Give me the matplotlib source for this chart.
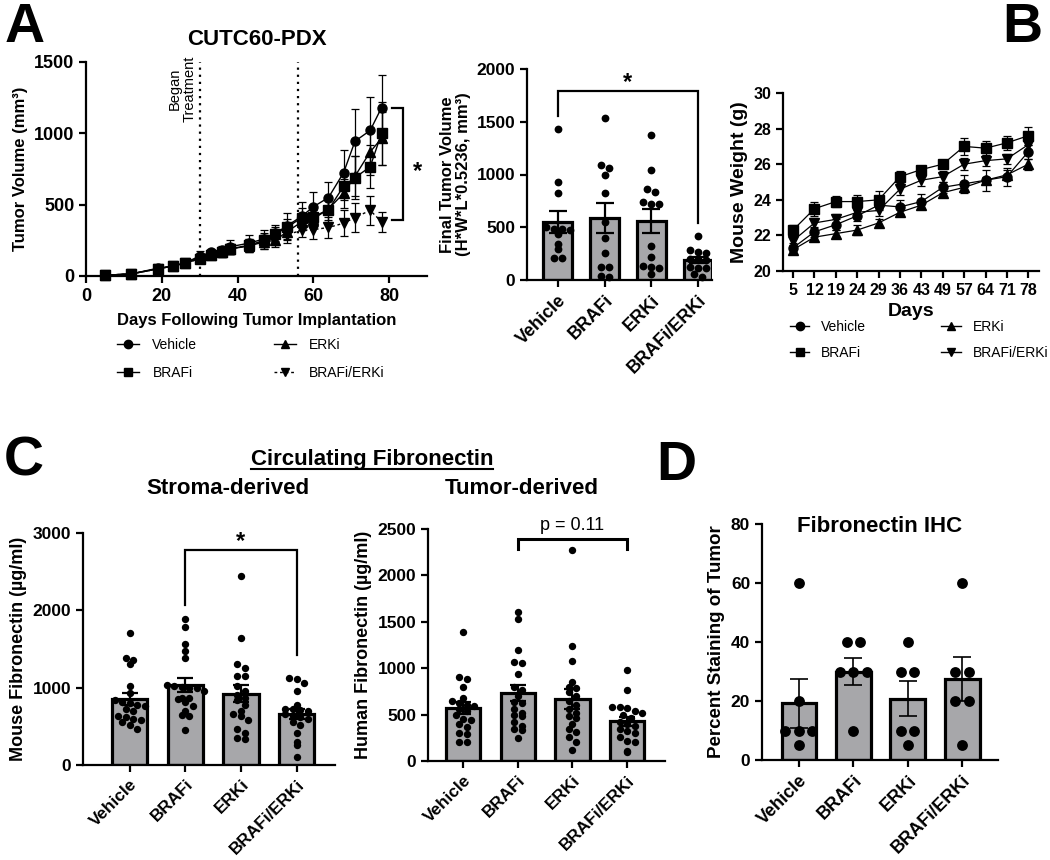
import numpy as np
import matplotlib
matplotlib.use("Agg")
import matplotlib.pyplot as plt
from matplotlib.lines import Line2D

plt.rcParams['font.family'] = ['Liberation Sans', 'DejaVu Sans']
plt.rcParams['font.weight'] = 'bold'
plt.rcParams['axes.labelweight'] = 'bold'
plt.rcParams['axes.titleweight'] = 'bold'
plt.rcParams['axes.linewidth'] = 1.6
plt.rcParams['xtick.major.width'] = 1.6
plt.rcParams['ytick.major.width'] = 1.6
plt.rcParams['xtick.major.size'] = 5
plt.rcParams['ytick.major.size'] = 5

groups = ['Vehicle', 'BRAFi', 'ERKi', 'BRAFi/ERKi']

# A - tumour growth (mean, SEM)
days_a = [5, 12, 19, 23, 26, 30, 33, 36, 38, 43, 47, 50, 53, 57, 60, 64, 68, 71, 75, 78]
veh_a = [5, 15, 55, 70, 90, 140, 165, 180, 205, 230, 260, 300, 350, 420, 485, 550, 725, 945, 1020, 1180]
veh_a_sem = [3, 5, 12, 15, 18, 35, 25, 30, 50, 55, 60, 60, 90, 100, 105, 110, 155, 225, 235, 230]
brafi_a = [5, 15, 50, 70, 90, 120, 145, 165, 190, 215, 250, 295, 340, 410, 415, 465, 630, 690, 765, 1000]
brafi_a_sem = [3, 5, 10, 15, 15, 25, 25, 30, 35, 45, 50, 50, 60, 70, 70, 85, 100, 150, 150, 220]
erki_a = [5, 15, 50, 70, 90, 130, 150, 170, 190, 210, 240, 250, 310, 380, 400, 470, 580, 700, 870, 965]
erki_a_sem = [3, 5, 10, 15, 15, 25, 25, 30, 35, 45, 50, 50, 60, 60, 60, 75, 100, 140, 160, 185]
combo_a = [5, 15, 50, 70, 90, 120, 145, 165, 190, 215, 240, 265, 290, 320, 325, 340, 370, 410, 460, 380]
combo_a_sem = [3, 5, 10, 15, 15, 25, 25, 30, 35, 45, 50, 50, 60, 50, 65, 75, 90, 100, 100, 70]

# A - final tumour volume per mouse
fv_veh = [1430, 930, 825, 500, 485, 480, 475, 435, 340, 290, 205, 205]
fv_brafi = [1540, 1086, 1064, 1000, 825, 550, 397, 254, 127, 127, 41, 32]
fv_erki = [1370, 1041, 864, 835, 737, 721, 721, 318, 222, 133, 127, 111, 54]
fv_combo = [420, 285, 270, 255, 200, 195, 190, 120, 118, 115, 60, 30]

# B - mouse weight (mean, SEM)
days_b = ['5', '12', '19', '24', '29', '36', '43', '49', '57', '64', '71', '78']
veh_b = [21.3, 22.2, 22.6, 23.1, 23.7, 23.6, 23.9, 24.7, 24.9, 25.1, 25.3, 26.7]
veh_b_sem = [0.3, 0.3, 0.3, 0.3, 0.3, 0.4, 0.4, 0.3, 0.5, 0.6, 0.5, 0.4]
brafi_b = [22.3, 23.5, 23.9, 23.9, 24.0, 25.3, 25.7, 26.0, 27.0, 26.9, 27.2, 27.6]
brafi_b_sem = [0.3, 0.4, 0.3, 0.35, 0.5, 0.3, 0.2, 0.2, 0.5, 0.4, 0.4, 0.5]
erki_b = [21.2, 21.9, 22.1, 22.3, 22.7, 23.3, 23.7, 24.4, 24.7, 25.1, 25.4, 26.0]
erki_b_sem = [0.2, 0.2, 0.2, 0.3, 0.2, 0.2, 0.2, 0.2, 0.2, 0.2, 0.3, 0.3]
combo_b = [21.7, 22.7, 22.9, 23.3, 23.4, 24.6, 25.1, 25.3, 26.0, 26.2, 26.3, 27.1]
combo_b_sem = [0.25, 0.3, 0.3, 0.3, 0.3, 0.35, 0.3, 0.3, 0.35, 0.3, 0.3, 0.3]

# C - circulating fibronectin (ug/ml)
mfn_veh = [1710, 1390, 1360, 1300, 1020, 930, 840, 820, 800, 780, 760, 720, 700, 640, 620, 600, 580, 560, 520, 470]
mfn_brafi = [1890, 1780, 1570, 1480, 1380, 1030, 1020, 1010, 1000, 990, 960, 870, 860, 850, 820, 760, 700, 650, 630, 450]
mfn_erki = [2440, 1640, 1300, 1260, 1150, 1150, 1020, 960, 900, 870, 840, 780, 700, 660, 640, 580, 460, 420, 350, 330]
mfn_combo = [1120, 1110, 1060, 960, 770, 730, 720, 710, 700, 660, 640, 620, 600, 560, 520, 410, 300, 260, 100]

hfn_veh = [1390, 910, 880, 800, 680, 650, 620, 600, 590, 560, 540, 500, 450, 440, 400, 370, 300, 290, 210, 200]
hfn_brafi = [1610, 1530, 1200, 1070, 1060, 940, 800, 760, 700, 640, 620, 560, 520, 500, 480, 420, 380, 340, 330, 250]
hfn_erki = [2270, 1240, 1080, 850, 800, 790, 740, 700, 650, 600, 560, 520, 480, 460, 400, 340, 310, 260, 200, 120]
hfn_combo = [980, 770, 580, 580, 570, 540, 520, 500, 460, 420, 400, 380, 340, 320, 300, 260, 220, 200, 110, 100]

# D - fibronectin IHC (% staining)
ihc_veh = [60, 20, 10, 10, 10, 5]
ihc_brafi = [40, 40, 30, 30, 30, 10]
ihc_erki = [40, 30, 30, 10, 10, 5]
ihc_combo = [60, 30, 30, 20, 20, 5]

BAR_GRAY = '#a7a7aa'
W, H = 1050, 860
fig = plt.figure(figsize=(W / 100, H / 100), dpi=100)


def add_ax(l, t, r, b):
    ax = fig.add_axes([l / W, 1 - b / H, (r - l) / W, (b - t) / H])
    ax.spines['top'].set_visible(False)
    ax.spines['right'].set_visible(False)
    return ax


def bold_ticks(ax):
    for lab in ax.get_xticklabels() + ax.get_yticklabels():
        lab.set_fontweight('bold')


def swarm_x(ax, x0, vals, dot_px):
    # rows one dot high, dots in a row spread evenly around the group centre
    ys = ax.transData.transform(np.column_stack([np.zeros(len(vals)), vals]))[:, 1]
    xscale = ax.transData.transform((1, 0))[0] - ax.transData.transform((0, 0))[0]
    rows = np.round(ys / dot_px).astype(int)
    xs = np.full(len(vals), float(x0))
    for r in np.unique(rows):
        idx = np.where(rows == r)[0]
        n = len(idx)
        xs[idx] = x0 + (np.arange(n) - (n - 1) / 2) * dot_px / xscale
    return xs


def bar_panel(ax, data, width, dot_px, ms, cap, elw, xfs):
    for i, vals in enumerate(data):
        vals = np.asarray(vals, float)
        m = vals.mean()
        sem = vals.std(ddof=1) / np.sqrt(len(vals))
        ax.bar(i, m, width=width, color=BAR_GRAY, edgecolor='black', linewidth=2.3, zorder=2)
        xs = swarm_x(ax, i, vals, dot_px)
        ax.plot(xs, vals, 'o', color='black', ms=ms, mec='none', zorder=3, clip_on=False)
        ax.errorbar(i, m, yerr=sem, fmt='none', ecolor='black', capsize=cap,
                    elinewidth=elw, capthick=elw, zorder=4)
    ax.set_xticks(range(len(groups)))
    ax.set_xticklabels(groups, rotation=45, ha='right', rotation_mode='anchor', fontsize=xfs)
    ax.tick_params(axis='y', labelsize=12.5)


def bracket(ax, x1, x2, top, y1, y2, lw=1.6):
    ax.plot([x1, x1, x2, x2], [y1, top, top, y2], color='black', lw=lw, clip_on=False,
            solid_joinstyle='miter')


# ---------------- A: growth curves ----------------
ax1 = add_ax(86, 62, 427, 276)
ax1.set_xlim(0, 90)
ax1.set_ylim(0, 1500)
series_a = [(veh_a, veh_a_sem, 'o', '-'), (brafi_a, brafi_a_sem, 's', '-'),
            (erki_a, erki_a_sem, '^', '-'), (combo_a, combo_a_sem, 'v', (0, (2, 2)))]
handles_a = []
for (m, s, mk, ls), name in zip(series_a, groups):
    ax1.errorbar(days_a, m, yerr=s, fmt='none', ecolor='black', elinewidth=0.9,
                 capsize=3, capthick=0.9, zorder=3, clip_on=False)
    ax1.plot(days_a, m, marker=mk, ls=ls, color='black', lw=1.0, ms=6.5, zorder=4, clip_on=False)
    handles_a.append(Line2D([], [], marker=mk, ls=ls, color='black', lw=1.0, ms=6))
for d in (30, 56):
    ax1.axvline(d, color='black', lw=1.6, ls=(0, (1, 2.2)), zorder=1)
ax1.text(25.3, 1310, 'Began\nTreatment', rotation=90, ha='center', va='center',
         fontsize=10.5, fontweight='normal', linespacing=1.05)
ax1.plot([80.7, 83.6, 83.6, 80.7], [1180, 1180, 390, 390], color='black', lw=1.6,
         solid_joinstyle='miter')
ax1.text(87.4, 690, '*', ha='center', va='baseline', fontsize=17)
ax1.set_xticks([0, 20, 40, 60, 80])
ax1.set_yticks([0, 500, 1000, 1500])
ax1.tick_params(labelsize=13)
ax1.set_ylabel('Tumor Volume (mm³)', fontsize=12)
ax1.set_xlabel('Days Following Tumor Implantation', fontsize=12, labelpad=6)
ax1.set_title('CUTC60-PDX', fontsize=16, pad=12)
ax1.legend(handles_a, groups, ncol=2, loc='upper left', bbox_to_anchor=(117 / W, 1 - 338 / H),
           bbox_transform=fig.transFigure, frameon=False, borderpad=0, borderaxespad=0,
           prop={'weight': 'normal', 'size': 10}, handlelength=1.6, handletextpad=0.95,
           columnspacing=5.5, labelspacing=1.0)
bold_ticks(ax1)

# ---------------- A: final tumour volume ----------------
ax2 = add_ax(527, 69, 712, 280)
ax2.set_xlim(-0.66, 3.3)
ax2.set_ylim(0, 2000)
bar_panel(ax2, [fv_veh, fv_brafi, fv_erki, fv_combo], 0.62, 8, 5.6, 6.5, 1.6, 13)
ax2.set_yticks([0, 500, 1000, 1500, 2000])
ax2.set_ylabel('Final Tumor Volume\n(H*W*L*0.5236, mm³)', fontsize=12, linespacing=1.1)
bracket(ax2, 0, 3, 1795, 1557, 538)
ax2.text(1.5, 1815, '*', ha='center', va='baseline', fontsize=17)
bold_ticks(ax2)

# ---------------- B: mouse weight ----------------
ax3 = add_ax(783, 93, 1039, 271)
ax3.set_xlim(-0.47, 11.5)
ax3.set_ylim(20, 30)
xb = np.arange(len(days_b))
series_b = [(veh_b, veh_b_sem, 'o'), (brafi_b, brafi_b_sem, 's'),
            (erki_b, erki_b_sem, '^'), (combo_b, combo_b_sem, 'v')]
handles_b = []
for m, s, mk in series_b:
    ax3.errorbar(xb, m, yerr=s, fmt='none', ecolor='black', elinewidth=0.9,
                 capsize=3, capthick=0.9, zorder=3)
    ax3.plot(xb, m, marker=mk, color='black', lw=0.9, ms=6.5, zorder=4, clip_on=False)
    handles_b.append(Line2D([], [], marker=mk, color='black', lw=1.0, ms=6))
ax3.set_xticks(xb)
ax3.set_xticklabels(days_b)
ax3.set_yticks([20, 22, 24, 26, 28, 30])
ax3.tick_params(labelsize=11.5)
ax3.set_xlabel('Days', fontsize=14, labelpad=4)
ax3.set_ylabel('Mouse Weight (g)', fontsize=14)
ax3.legend(handles_b, groups, ncol=2, loc='upper left', bbox_to_anchor=(790 / W, 1 - 320 / H),
           bbox_transform=fig.transFigure, frameon=False, borderpad=0, borderaxespad=0,
           prop={'weight': 'normal', 'size': 10}, handlelength=1.4, handletextpad=0.85,
           columnspacing=5.4, labelspacing=0.85)
bold_ticks(ax3)

# ---------------- C: circulating fibronectin ----------------
ax4 = add_ax(83, 533, 335, 765)
ax4.set_xlim(-0.84, 3.69)
ax4.set_ylim(0, 3000)
bar_panel(ax4, [mfn_veh, mfn_brafi, mfn_erki, mfn_combo], 0.63, 7.5, 5.3, 6, 1.6, 12.3)
ax4.set_yticks([0, 1000, 2000, 3000])
ax4.set_ylabel('Mouse Fibronectin (µg/ml)', fontsize=13)
bracket(ax4, 1, 3, 2785, 2072, 1425)
ax4.text(2, 2810, '*', ha='center', va='baseline', fontsize=17)
bold_ticks(ax4)

ax5 = add_ax(428, 529, 665, 761)
ax5.set_xlim(-0.64, 3.69)
ax5.set_ylim(0, 2500)
bar_panel(ax5, [hfn_veh, hfn_brafi, hfn_erki, hfn_combo], 0.63, 7.5, 5.3, 6, 1.6, 12.3)
ax5.set_yticks([0, 500, 1000, 1500, 2000, 2500])
ax5.set_ylabel('Human Fibronectin (µg/ml)', fontsize=13)
bracket(ax5, 1, 3, 2396, 2280, 2280, lw=2.2)
ax5.text(2, 2489, 'p = 0.11', ha='center', va='baseline', fontsize=13, fontweight='normal')
bold_ticks(ax5)

# ---------------- D: fibronectin IHC ----------------
ax6 = add_ax(762, 524, 998, 760)
ax6.set_xlim(-0.68, 3.66)
ax6.set_ylim(0, 80)
bar_panel(ax6, [ihc_veh, ihc_brafi, ihc_erki, ihc_combo], 0.64, 13.5, 7.8, 6.5, 1.2, 13)
ax6.set_yticks([0, 20, 40, 60, 80])
ax6.set_ylabel('Percent Staining of Tumor', fontsize=13.5)
ax6.set_title('Fibronectin IHC', fontsize=16, pad=-6, y=1.0)
bold_ticks(ax6)

# ---------------- figure text ----------------
fig.text(5 / W, 1 - 42 / H, 'A', fontsize=40, ha='left', va='baseline')
fig.text(1002 / W, 1 - 42 / H, 'B', fontsize=40, ha='left', va='baseline')
fig.text(4 / W, 1 - 475 / H, 'C', fontsize=40, ha='left', va='baseline')
fig.text(656 / W, 1 - 480 / H, 'D', fontsize=40, ha='left', va='baseline')
t_circ = fig.text(372 / W, 1 - 465 / H, 'Circulating Fibronectin', fontsize=16,
                  ha='center', va='baseline')
fig.text(228 / W, 1 - 494 / H, 'Stroma-derived', fontsize=16, ha='center', va='baseline')
fig.text(522 / W, 1 - 494 / H, 'Tumor-derived', fontsize=16, ha='center', va='baseline')

fig.canvas.draw()
bb = t_circ.get_window_extent()
fig.add_artist(Line2D([bb.x0 / W, bb.x1 / W], [(bb.y0 + 1) / H, (bb.y0 + 1) / H],
                      transform=fig.transFigure, color='black', lw=1.5))

fig.savefig('out.png', dpi=100)
